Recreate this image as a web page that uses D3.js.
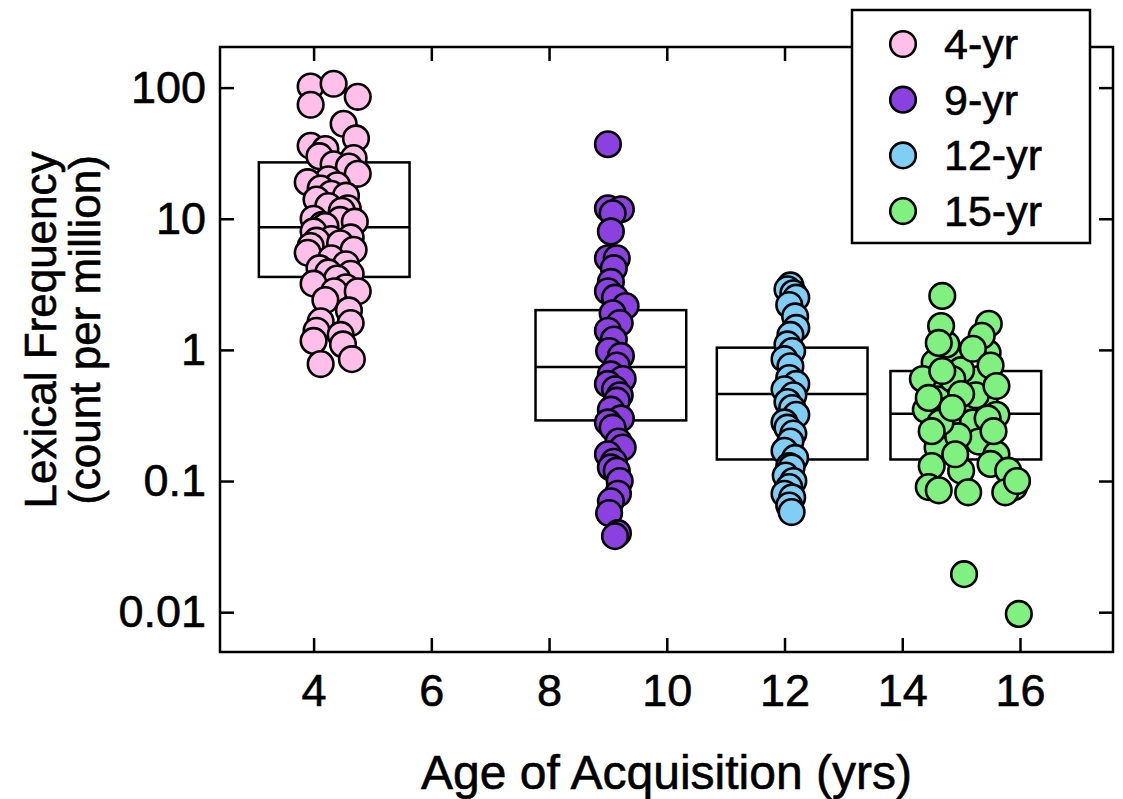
<!DOCTYPE html>
<html>
<head>
<meta charset="utf-8">
<title>Lexical Frequency by Age of Acquisition</title>
<script src="https://cdn.jsdelivr.net/npm/d3@7"></script>
<style>
  body { margin: 0; background: #fff; }
  text { font-family: "Liberation Sans", Arial, Helvetica, sans-serif; fill: #000; stroke: #000; stroke-width: 0.6; }
</style>
</head>
<body>
<svg id="chart" width="1123" height="799"></svg>
<script>
// ---- data ----
const groups = ["4-yr", "9-yr", "12-yr", "15-yr"];
const groupColors = ["#ffbfe8", "#8b40e0", "#80cef6", "#80f080"];

const ageTicks = [4, 6, 8, 10, 12, 14, 16];
const freqTicks = [0.01, 0.1, 1, 10, 100];
const freqTickLabels = ["0.01", "0.1", "1", "10", "100"];

// box: centre age, lower quartile, median, upper quartile
const boxCenters = [4.35, 9.05, 12.13, 15.08];
const boxWidth = 2.56;
const boxQ1 = [3.6, 0.29, 0.146, 0.146];
const boxMedian = [8.6, 0.74, 0.46, 0.326];
const boxQ3 = [26.9, 2.01, 1.04, 0.69];

// words: [age of acquisition, frequency per million]
const words4 = [
  [3.95, 102], [4.34, 107], [4.75, 85], [3.95, 74], [4.51, 53], [4.72, 41], [3.95, 36],
  [4.2, 34], [4.68, 29], [4.1, 30], [4.34, 26], [4.6, 25], [4.75, 22], [4.25, 20],
  [3.9, 19], [4.4, 18], [4.12, 17], [4.3, 15.5], [4.55, 15], [4.05, 14], [4.25, 12.5],
  [4.58, 12], [4.48, 11.5], [4.0, 10], [4.45, 9.8], [4.7, 9.5], [4.15, 9], [4.2, 8.8],
  [4.0, 8], [4.63, 7.2], [4.3, 7], [4.05, 6.8], [4.45, 6.5], [3.95, 6.2], [4.68, 5.8],
  [3.9, 5.5], [4.3, 5.0], [4.55, 4.5], [4.1, 4.2], [4.25, 3.9], [4.63, 3.8], [4.4, 3.5],
  [4.0, 3.2], [4.55, 3.0], [4.35, 2.8], [4.75, 2.8], [4.2, 2.4], [4.6, 2.0], [4.12, 1.65],
  [4.63, 1.6], [4.05, 1.4], [4.46, 1.3], [4.0, 1.17], [4.5, 1.1], [4.65, 0.85], [4.12, 0.78]
];
const words9 = [
  [9.0, 37], [9.0, 12], [9.22, 11.8], [9.08, 11], [9.05, 8.0], [9.0, 5.0], [9.15, 5.0],
  [9.1, 4.2], [9.05, 3.3], [9.0, 2.8], [9.12, 2.5], [9.3, 2.16], [9.08, 1.9], [9.2, 1.6],
  [9.0, 1.4], [9.1, 1.2], [9.02, 0.98], [9.22, 0.9], [9.15, 0.76], [9.05, 0.65],
  [9.25, 0.6], [9.0, 0.55], [9.12, 0.5], [9.2, 0.45], [9.15, 0.41], [9.05, 0.35],
  [9.22, 0.3], [9.0, 0.28], [9.08, 0.255], [9.18, 0.2], [9.25, 0.18], [9.0, 0.16],
  [9.1, 0.14], [9.05, 0.127], [9.15, 0.12], [9.2, 0.1], [9.17, 0.08], [9.05, 0.07],
  [9.02, 0.057], [9.17, 0.04], [9.12, 0.038]
];
const words12 = [
  [12.1, 3.1], [12.05, 2.9], [12.15, 2.7], [12.2, 2.5], [12.08, 2.2], [12.18, 1.8],
  [12.2, 1.47], [12.1, 1.3], [12.05, 1.1], [12.13, 0.98], [12.0, 0.85], [12.1, 0.75],
  [12.08, 0.61], [12.2, 0.55], [12.0, 0.5], [12.15, 0.45], [12.05, 0.4], [12.13, 0.36],
  [12.2, 0.32], [12.0, 0.28], [12.05, 0.255], [12.15, 0.23], [12.1, 0.2], [12.0, 0.17],
  [12.18, 0.15], [12.08, 0.13], [12.12, 0.127], [12.02, 0.11], [12.15, 0.1],
  [12.08, 0.09], [12.0, 0.08], [12.13, 0.075], [12.08, 0.065], [12.12, 0.058]
];
const words15 = [
  [14.55, 0.8], [14.9, 0.9], [15.3, 0.6], [14.7, 0.55], [15.1, 0.35], [15.4, 0.42],
  [14.8, 0.3], [15.2, 0.28], [14.4, 0.35], [14.6, 0.18], [15.3, 0.2], [15.6, 0.16],
  [14.5, 0.13], [15.0, 0.12], [15.9, 0.09], [14.35, 0.6], [15.45, 0.95], [15.0, 0.7],
  [14.75, 1.1], [15.6, 0.32], [14.95, 0.22], [14.6, 0.42], [15.25, 0.45], [14.85, 0.6],
  [15.45, 0.3], [14.65, 0.28],
  [14.68, 2.58], [14.66, 1.52], [14.62, 1.13], [15.47, 1.58], [15.35, 1.28],
  [15.2, 1.02], [14.68, 0.69], [15.5, 0.76], [15.6, 0.53], [15.0, 0.46], [14.45, 0.43],
  [14.85, 0.36], [14.5, 0.24], [15.55, 0.24], [14.9, 0.16], [15.5, 0.135], [15.8, 0.12],
  [14.45, 0.09], [14.62, 0.085], [15.12, 0.082], [15.75, 0.082], [15.95, 0.1],
  [15.05, 0.0195], [15.98, 0.0097]
];
const wordsByGroup = [words4, words9, words12, words15];

// ---- layout ----
const svg = d3.select("#chart");
const plotLeft = 220, plotRight = 1113, plotTop = 47, plotBottom = 652;
const tickLen = 14;
const radius = 12.8;

const x = d3.scaleLinear().domain([2.41, 17.58]).range([plotLeft, plotRight]);
const y = d3.scaleLog().domain([0.00497, 204]).range([plotBottom, plotTop]);

// boxes
const boxes = svg.append("g");
groups.forEach((g, i) => {
  boxes.append("rect")
    .attr("x", x(boxCenters[i] - boxWidth / 2))
    .attr("y", y(boxQ3[i]))
    .attr("width", x(boxCenters[i] + boxWidth / 2) - x(boxCenters[i] - boxWidth / 2))
    .attr("height", y(boxQ1[i]) - y(boxQ3[i]))
    .attr("fill", "none")
    .attr("stroke", "#000")
    .attr("stroke-width", 2.5);
  boxes.append("line")
    .attr("x1", x(boxCenters[i] - boxWidth / 2))
    .attr("x2", x(boxCenters[i] + boxWidth / 2))
    .attr("y1", y(boxMedian[i]))
    .attr("y2", y(boxMedian[i]))
    .attr("stroke", "#000")
    .attr("stroke-width", 2.5);
});

// points
groups.forEach((g, i) => {
  svg.append("g").selectAll("circle")
    .data(wordsByGroup[i])
    .enter()
    .append("circle")
    .attr("cx", d => x(d[0]))
    .attr("cy", d => y(d[1]))
    .attr("r", radius)
    .attr("fill", groupColors[i])
    .attr("stroke", "#000")
    .attr("stroke-width", 2.6);
});

// axes, ticks pointing inward
function styleAxis(sel) {
  sel.select(".domain").remove();
  sel.selectAll(".tick line").attr("stroke", "#000").attr("stroke-width", 2.5);
  sel.selectAll(".tick text").attr("font-size", 45).attr("fill", "#000")
    .style("font-family", "'Liberation Sans', Arial, sans-serif");
}

svg.append("g")
  .attr("transform", "translate(0," + plotBottom + ")")
  .call(d3.axisBottom(x).tickValues(ageTicks).tickSizeInner(-tickLen).tickSizeOuter(0).tickPadding(22))
  .call(styleAxis);
svg.append("g")
  .attr("transform", "translate(0," + plotTop + ")")
  .call(d3.axisTop(x).tickValues(ageTicks).tickSizeInner(-tickLen).tickSizeOuter(0).tickFormat(""))
  .call(styleAxis);
svg.append("g")
  .attr("transform", "translate(" + plotLeft + ",0)")
  .call(d3.axisLeft(y).tickValues(freqTicks).tickSizeInner(-tickLen).tickSizeOuter(0).tickPadding(14)
    .tickFormat((d, i) => freqTickLabels[i]))
  .call(styleAxis);
svg.append("g")
  .attr("transform", "translate(" + plotRight + ",0)")
  .call(d3.axisRight(y).tickValues(freqTicks).tickSizeInner(-tickLen).tickSizeOuter(0).tickFormat(""))
  .call(styleAxis);

// frame
svg.append("rect")
  .attr("x", plotLeft).attr("y", plotTop)
  .attr("width", plotRight - plotLeft).attr("height", plotBottom - plotTop)
  .attr("fill", "none").attr("stroke", "#000").attr("stroke-width", 2.5);

// axis titles
svg.append("text")
  .attr("x", (plotLeft + plotRight) / 2).attr("y", 789)
  .attr("text-anchor", "middle").attr("font-size", 48)
  .text("Age of Acquisition (yrs)");

const yTitle = svg.append("text")
  .attr("transform", "translate(0,330) rotate(-90)")
  .attr("text-anchor", "middle").attr("font-size", 44);
yTitle.append("tspan").attr("x", 0).attr("y", 56).text("Lexical Frequency");
yTitle.append("tspan").attr("x", 0).attr("y", 100).text("(count per million)");

// legend
const legend = svg.append("g").attr("transform", "translate(852,10)");
legend.append("rect")
  .attr("width", 238).attr("height", 233)
  .attr("fill", "#fff").attr("stroke", "#000").attr("stroke-width", 2.5);
groups.forEach((g, i) => {
  const row = legend.append("g").attr("transform", "translate(0," + (34 + i * 55.7) + ")");
  row.append("circle").attr("cx", 51).attr("cy", 0).attr("r", radius)
    .attr("fill", groupColors[i]).attr("stroke", "#000").attr("stroke-width", 2.6);
  row.append("text").attr("x", 92).attr("y", 15).attr("font-size", 43).text(g);
});
</script>
</body>
</html>
